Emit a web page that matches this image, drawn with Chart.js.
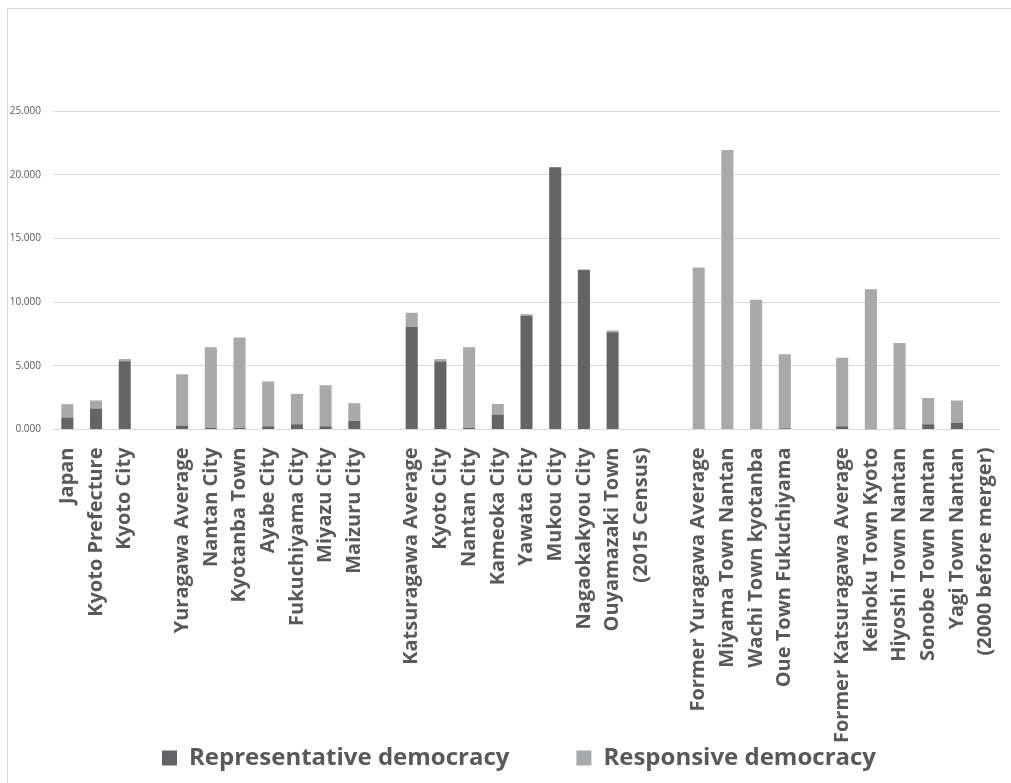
<!DOCTYPE html>
<html>
<head>
<meta charset="utf-8">
<script src="https://cdn.jsdelivr.net/npm/chart.js@4.4.1/dist/chart.umd.min.js"></script>
<style>
  html, body { margin: 0; padding: 0; background: #fff; overflow: hidden; }
  #frame {
    position: absolute; left: 7px; top: 8px;
    width: 1004px; height: 775px;
    border-left: 1px solid #d9d9d9; border-top: 1px solid #d9d9d9;
  }
  #chart-area { position: absolute; left: 0; top: 0; }
</style>
</head>
<body>
<div id="frame"></div>
<canvas id="chart-area" width="1011" height="783"></canvas>
<script>
// areas, grouped with blank slots between groups
var areas = [
  'Japan', 'Kyoto Prefecture', 'Kyoto City', '',
  'Yuragawa Average', 'Nantan City', 'Kyotanba Town', 'Ayabe City', 'Fukuchiyama City', 'Miyazu City', 'Maizuru City', '',
  'Katsuragawa Average', 'Kyoto City', 'Nantan City', 'Kameoka City', 'Yawata City', 'Mukou City', 'Nagaokakyou City', 'Ouyamazaki Town', '(2015 Census)', '',
  'Former Yuragawa Average', 'Miyama Town Nantan', 'Wachi Town kyotanba', 'Oue Town Fukuchiyama', '',
  'Former Katsuragawa Average', 'Keihoku Town Kyoto', 'Hiyoshi Town Nantan', 'Sonobe Town Nantan', 'Yagi Town Nantan', '(2000 before merger)'
];

var representative = [
  0.94, 1.65, 5.35, null,
  0.31, 0.13, 0.13, 0.26, 0.41, 0.26, 0.67, null,
  8.04, 5.33, 0.13, 1.18, 8.90, 20.58, 12.51, 7.63, null, null,
  0.05, 0.03, 0.05, 0.10, null,
  0.26, 0.02, 0.08, 0.41, 0.52, null
];

var responsive = [
  1.04, 0.62, 0.18, null,
  4.02, 6.32, 7.10, 3.50, 2.38, 3.21, 1.39, null,
  1.13, 0.20, 6.32, 0.83, 0.14, 0.03, 0.05, 0.15, null, null,
  12.67, 21.91, 10.14, 5.80, null,
  5.38, 10.98, 6.71, 2.07, 1.75, null
];

var yTicks = [0, 5, 10, 15, 20, 25];

var textColor = '#595959';

// legend items sit far apart, but the legend itself should stay short
var legendGap = 67;
var legendTrim = 74;
var legendShift = 15;
var compactLegend = {
  id: 'compactLegend',
  afterInit: function(chart) {
    var legend = chart.legend;
    var fit = legend.fit;
    var draw = legend.draw;
    legend.fit = function() {
      fit.call(this);
      this.height -= legendTrim;
    };
    legend.draw = function() {
      this.top -= legendTrim;
      this.left += legendShift;
      this.right += legendShift;
      draw.call(this);
      this.top += legendTrim;
      this.left -= legendShift;
      this.right -= legendShift;
    };
  }
};

var config = {
  type: 'bar',
  data: {
    labels: areas,
    datasets: [{
      label: 'Representative democracy',
      data: representative,
      backgroundColor: '#646466'
    }, {
      label: 'Responsive democracy',
      data: responsive,
      backgroundColor: '#a8a9ab'
    }]
  },
  options: {
    responsive: false,
    animation: false,
    layout: { padding: { top: 111, right: 11, left: 8, bottom: 3 } },
    datasets: {
      bar: { categoryPercentage: 1, barPercentage: 0.42 }
    },
    scales: {
      x: {
        stacked: true,
        grid: { display: false },
        border: { display: false },
        afterFit: function(axis) {
          axis.paddingLeft = 0;
          axis.paddingRight = 0;
        },
        ticks: {
          autoSkip: false,
          maxRotation: 90,
          minRotation: 90,
          padding: 10,
          color: textColor,
          font: { family: 'Open Sans', size: 20, weight: '700' }
        }
      },
      y: {
        stacked: true,
        min: 0,
        max: 25,
        afterBuildTicks: function(axis) {
          axis.ticks = yTicks.map(function(v) { return { value: v }; });
        },
        afterFit: function(axis) {
          axis.width = 45;
        },
        grid: { color: '#d9d9d9', lineWidth: 1, drawTicks: false },
        border: { display: false },
        ticks: {
          padding: 12,
          color: textColor,
          font: { family: 'Open Sans', size: 10 },
          callback: function(v) { return v.toFixed(3); }
        }
      }
    },
    plugins: {
      tooltip: { enabled: false },
      legend: {
        position: 'bottom',
        labels: {
          boxWidth: 15,
          boxHeight: 15,
          padding: legendGap,
          color: textColor,
          font: { family: 'Open Sans', size: 24, weight: '700' }
        }
      }
    }
  },
  plugins: [compactLegend]
};

var ctx = document.getElementById('chart-area').getContext('2d');
window.myBar = new Chart(ctx, config);
</script>
</body>
</html>
